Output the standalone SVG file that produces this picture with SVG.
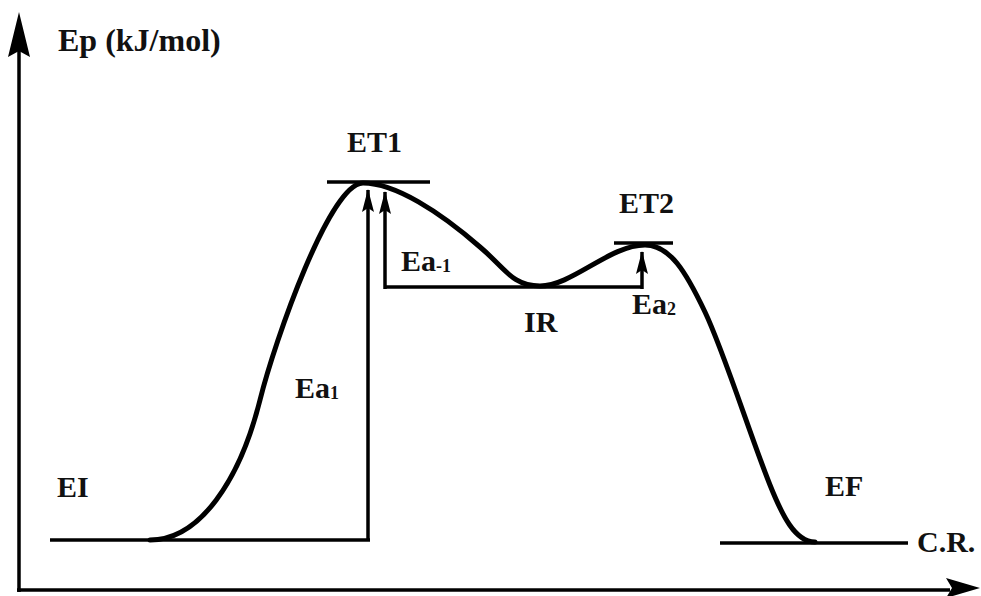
<svg xmlns="http://www.w3.org/2000/svg" width="981" height="596" viewBox="0 0 981 596">
<style>
text{font-family:"Liberation Serif","Times New Roman",serif;font-weight:bold;font-size:30px;fill:#111}
.s{font-size:18px}
.ln{stroke:#000;fill:none;stroke-width:3.5}
.cv{stroke:#000;fill:none;stroke-width:5;stroke-linecap:round}
</style>
<defs>
<marker id="ah" markerUnits="userSpaceOnUse" markerWidth="12" markerHeight="24" refX="6" refY="1" orient="0" viewBox="0 0 12 24">
<path d="M6,0 L12,23 L6,19 L0,23 Z" fill="#000"/>
</marker>
</defs>
<rect width="981" height="596" fill="#fff"/>
<g id="axes">
<line x1="19" y1="592" x2="19" y2="50" class="ln" stroke-width="3"/>
<polygon points="19,12 30,57 19,51 8,57" fill="#000"/>
<line x1="17" y1="590" x2="950" y2="590" class="ln" stroke-width="3"/>
<polygon points="980,588 946,578 952,588 946,598" fill="#000"/>
<text x="58" y="51" style="font-size:32px">Ep (kJ/mol)</text>
<text x="917" y="552">C.R.</text>
</g>
<g id="levels">
<line x1="50" y1="540" x2="370" y2="540" class="ln"/>
<line x1="327" y1="182" x2="430" y2="182" class="ln"/>
<line x1="614" y1="243" x2="673" y2="243" class="ln"/>
<line x1="720" y1="543" x2="908" y2="543" class="ln"/>
</g>
<g id="connectors">
<path class="cv" d="M150,540 C200,540 240,480 260,400 C275,340 330,183 363,183 C395,183 440,212 480,247 C505,268 512,286 540,286 C572,286 610,245 645,245 C670,245 686,272 705,312 C724,352 750,435 770,485 C782,515 795,542 815,542"/>
<line x1="385" y1="287" x2="643" y2="287" class="ln"/>
<line x1="368" y1="540" x2="368" y2="190" class="ln" marker-end="url(#ah)"/>
<line x1="385" y1="289" x2="385" y2="192" class="ln" marker-end="url(#ah)"/>
<line x1="642" y1="289" x2="642" y2="252" class="ln" marker-end="url(#ah)"/>
</g>
<g id="EI"><text x="57" y="497">EI</text></g>
<g id="ET1"><text x="347" y="152">ET1</text></g>
<g id="ET2"><text x="619" y="213">ET2</text></g>
<g id="IR"><text x="524" y="332">IR</text></g>
<g id="EF"><text x="825" y="496">EF</text></g>
<g id="Ea1"><text x="295" y="398">Ea<tspan class="s" dy="1">1</tspan></text></g>
<g id="Ea-1"><text x="401" y="271">Ea<tspan class="s" dy="1">-1</tspan></text></g>
<g id="Ea2"><text x="632" y="314">Ea<tspan class="s" dy="1">2</tspan></text></g>
</svg>
